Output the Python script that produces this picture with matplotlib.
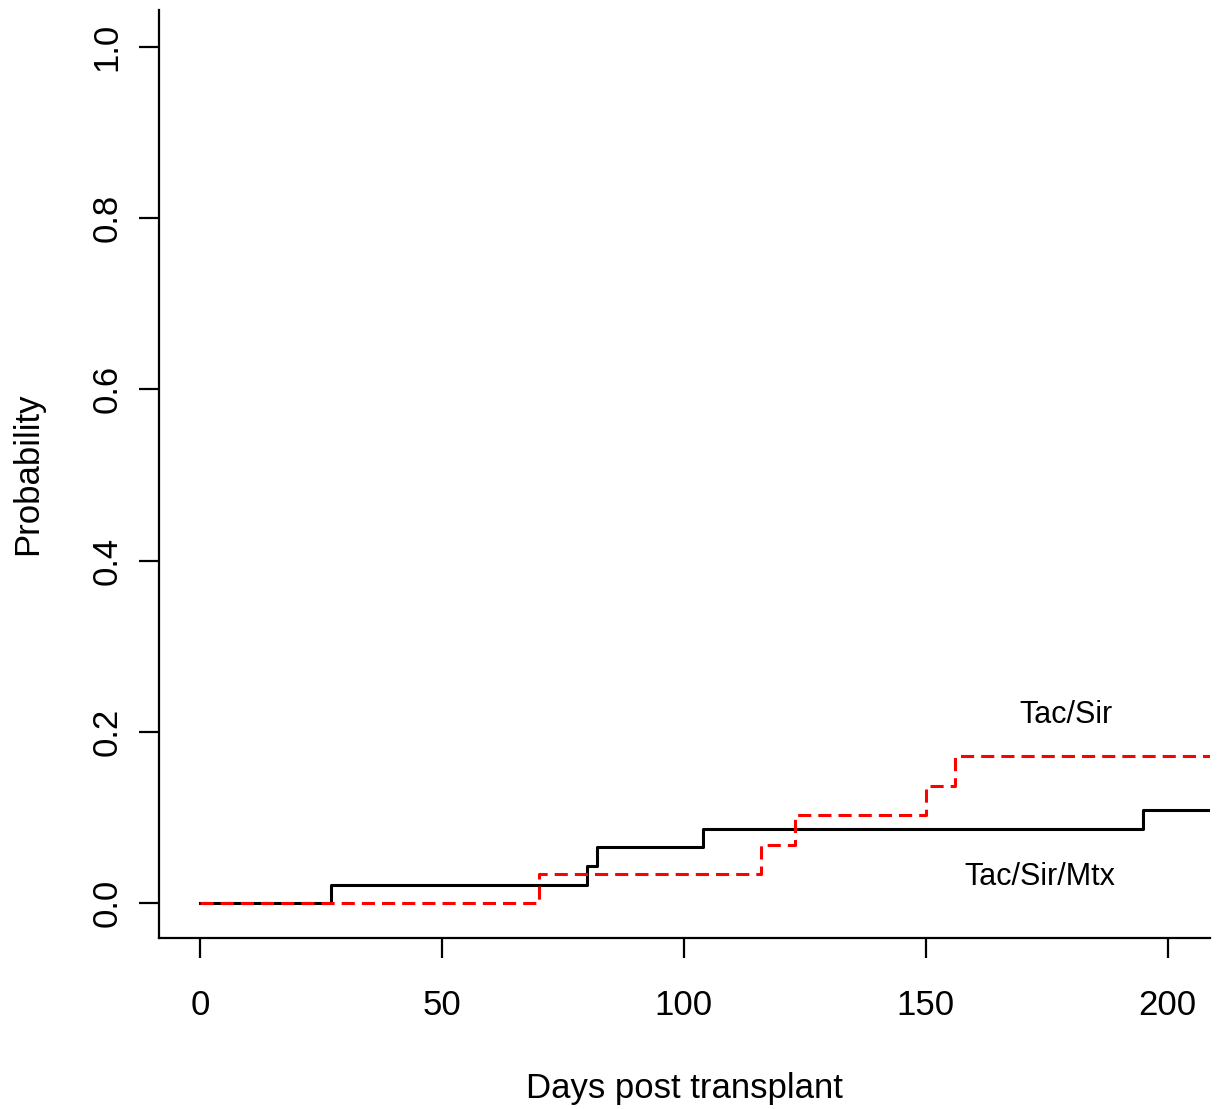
import matplotlib.pyplot as plt

plt.rcParams['font.family'] = ['Liberation Sans', 'DejaVu Sans']

# cumulative incidence step curves
mtx_days = [0, 27, 80, 82, 104, 195, 215]
mtx_prob = [0, 0.021, 0.043, 0.065, 0.087, 0.109, 0.109]

sir_days = [0, 70, 116, 123, 150, 156, 215]
sir_prob = [0, 0.034, 0.068, 0.103, 0.137, 0.172, 0.172]

fig = plt.figure(figsize=(12.22, 11.09), dpi=100)
ax = fig.add_axes([0.130, 0.154, 0.860, 0.837])

ax.plot(mtx_days, mtx_prob, drawstyle='steps-post', color='black', lw=2.2)
ax.plot(sir_days, sir_prob, drawstyle='steps-post', color='red', lw=2.2,
        dashes=(4.3, 2.3))

ax.text(179, 0.22, "Tac/Sir", fontsize=22, ha='center', va='center')
ax.text(173.5, 0.03, "Tac/Sir/Mtx", fontsize=22, ha='center', va='center')

ax.set_xlim(-8.5, 208.7)
ax.set_ylim(-0.041, 1.043)
ax.set_xticks([0, 50, 100, 150, 200])
ax.set_yticks([0.0, 0.2, 0.4, 0.6, 0.8, 1.0])
ax.set_yticklabels(["0.0", "0.2", "0.4", "0.6", "0.8", "1.0"], rotation=90, va='center')

ax.spines['top'].set_visible(False)
ax.spines['right'].set_visible(False)
for s in ['left', 'bottom']:
    ax.spines[s].set_linewidth(1.6)
ax.tick_params(axis='both', direction='out', length=14.5, width=1.6, labelsize=25)
ax.tick_params(axis='x', pad=22)
ax.tick_params(axis='y', pad=11)

ax.set_xlabel("Days post transplant", fontsize=25, labelpad=36)
ax.set_ylabel("Probability", fontsize=25, labelpad=33)

fig.savefig("out.png", dpi=100)
